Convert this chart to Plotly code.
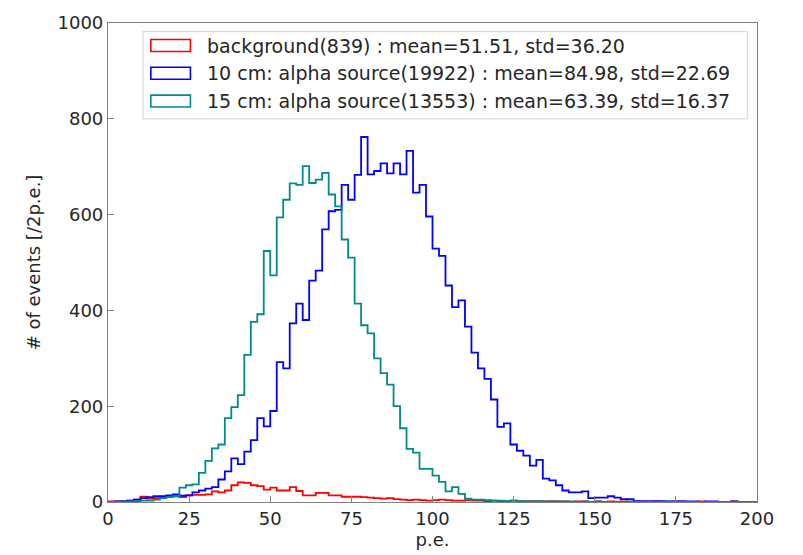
import numpy as np
import plotly.graph_objects as go

# ---------------- data (counts per 2 p.e. bin, 0..200) ----------------
bin_width = 2
x_min, x_max = 0, 200

background_counts = [
    1, 1, 2, 3, 5, 11, 7, 8, 11, 12,
    12, 10, 14, 15, 15, 16, 22, 20, 24, 35,
    41, 40, 35, 33, 26, 30, 24, 24, 31, 23,
    14, 14, 19, 19, 14, 14, 11, 11, 11, 10,
    9, 8, 7, 8, 6, 5, 4, 5, 4, 3,
    4, 5, 4, 3, 3, 4, 3, 3, 2, 3,
    2, 2, 3, 2, 1, 2, 1, 1, 2, 1,
    1, 0, 1, 1, 0, 1, 0, 1, 0, 1,
    0, 1, 0, 0, 1, 0, 0, 1, 0, 0,
    0, 1, 0, 0, 0, 0, 1, 0, 0, 0,
]

alpha10_counts = [
    0, 1, 2, 3, 5, 8, 10, 12, 12, 14,
    16, 13, 14, 20, 24, 28, 31, 47, 64, 91,
    79, 105, 129, 175, 158, 190, 292, 279, 373, 414,
    380, 462, 483, 569, 607, 610, 662, 631, 683, 762,
    684, 691, 707, 686, 707, 684, 733, 646, 662, 596,
    529, 514, 452, 407, 421, 366, 312, 279, 257, 214,
    157, 164, 120, 107, 97, 76, 88, 49, 45, 35,
    24, 20, 20, 22, 8, 9, 9, 12, 9, 6,
    6, 2, 2, 2, 2, 2, 1, 1, 2, 1,
    1, 0, 1, 1, 0, 0, 1, 0, 0, 0,
]

alpha15_counts = [
    0, 0, 1, 1, 2, 3, 3, 5, 8, 10,
    12, 30, 35, 37, 61, 86, 112, 120, 175, 198,
    223, 307, 376, 392, 524, 473, 594, 631, 665, 662,
    701, 666, 673, 687, 642, 617, 548, 510, 414, 369,
    352, 300, 269, 245, 200, 154, 111, 103, 69, 69,
    55, 42, 22, 31, 17, 7, 5, 5, 4, 3,
    3, 2, 3, 2, 2, 1, 2, 1, 1, 1,
    1, 1, 0, 1, 0, 1, 0, 0, 0, 0,
    1, 0, 0, 0, 0, 0, 1, 0, 0, 0,
    0, 0, 0, 0, 0, 0, 0, 0, 0, 0,
]

series_labels = [
    "background(839) : mean=51.51, std=36.20",
    "10 cm: alpha source(19922) : mean=84.98, std=22.69",
    "15 cm: alpha source(13553) : mean=63.39, std=16.37",
]
series_colors = ["#ff0000", "#0000ff", "#008b8b"]

x_ticks = [0, 25, 50, 75, 100, 125, 150, 175, 200]
y_ticks = [0, 200, 400, 600, 800, 1000]
x_title = "p.e."
y_title = "# of events [/2p.e.]"

# ---------------- figure ----------------
edges = np.arange(x_min, x_max + bin_width, bin_width)

fig = go.Figure()
for counts, color, label in zip(
    [background_counts, alpha10_counts, alpha15_counts], series_colors, series_labels
):
    ys = [0] + list(counts) + [counts[-1], 0]
    xs = [edges[0]] + list(edges[:-1]) + [edges[-1], edges[-1]]
    fig.add_trace(
        go.Scatter(
            x=xs, y=ys, mode="lines", line=dict(color=color, width=1.8, shape="hv"),
            name=label, showlegend=False, hoverinfo="skip",
        )
    )

FONT = "DejaVu Sans"
TXT = "#262626"
AX = "#808080"

# manual matplotlib-like legend
shapes = []
annotations = []
box_x0, box_x1, box_y0, box_y1 = 0.054, 0.985, 0.800, 0.982
shapes.append(dict(type="rect", xref="paper", yref="paper", x0=box_x0, x1=box_x1,
                   y0=box_y0, y1=box_y1, line=dict(color="#d3d3d3", width=1),
                   fillcolor="rgba(255,255,255,0.85)", layer="above"))
row_y = [0.953, 0.895, 0.837]
for ry, color, label in zip(row_y, series_colors, series_labels):
    shapes.append(dict(type="rect", xref="paper", yref="paper", x0=0.066, x1=0.127,
                       y0=ry - 0.0125, y1=ry + 0.0125, line=dict(color=color, width=1.6),
                       fillcolor="rgba(0,0,0,0)", layer="above"))
    annotations.append(dict(xref="paper", yref="paper", x=0.150, y=ry, text=label,
                            showarrow=False, xanchor="left", yanchor="middle",
                            font=dict(family=FONT, size=19, color=TXT)))

fig.update_layout(
    width=803, height=555,
    margin=dict(l=108, r=46, t=19, b=52),
    paper_bgcolor="white", plot_bgcolor="white",
    font=dict(family=FONT, size=18, color=TXT),
    shapes=shapes, annotations=annotations,
    showlegend=False,
)
fig.update_xaxes(
    range=[x_min, x_max], tickvals=x_ticks, ticks="inside", ticklen=6, tickwidth=1.2,
    tickcolor=AX, showline=True, linecolor=AX, linewidth=1.2, mirror=True,
    showgrid=False, zeroline=False, tickfont=dict(family=FONT, size=18, color=TXT),
    title=dict(text=x_title, font=dict(family=FONT, size=18, color=TXT), standoff=2),
)
fig.update_yaxes(
    range=[0, 1000], tickvals=y_ticks, ticks="inside", ticklen=6, tickwidth=1.2,
    tickcolor=AX, showline=True, linecolor=AX, linewidth=1.2, mirror=True,
    showgrid=False, zeroline=False, tickfont=dict(family=FONT, size=18, color=TXT),
    title=dict(text=y_title, font=dict(family=FONT, size=18, color=TXT), standoff=12),
)

fig.write_html("out.html")
